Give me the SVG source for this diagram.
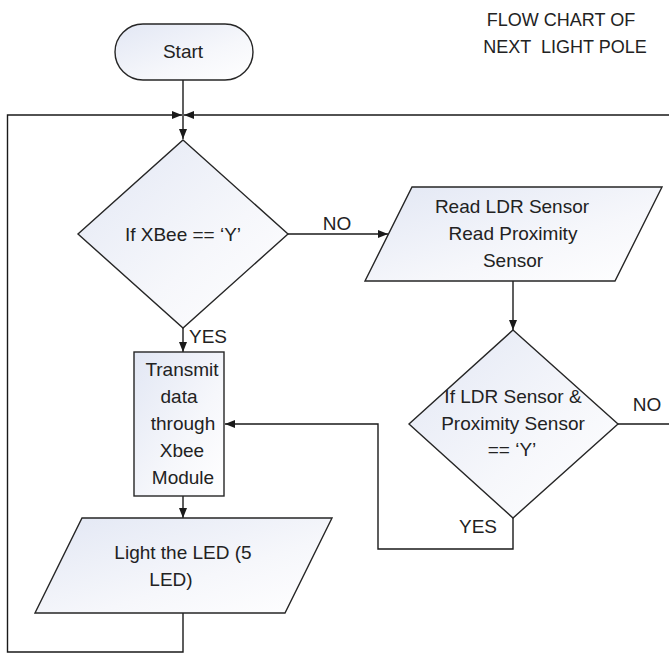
<svg xmlns="http://www.w3.org/2000/svg" width="669" height="654" viewBox="0 0 669 654">
<style>
.shape{stroke:#262626;stroke-width:1.4;fill:url(#fillg)}
.conn{stroke:#1a1a1a;stroke-width:1.4;fill:none}
.t{font-family:"Liberation Sans",Arial,sans-serif;font-size:19px;fill:#222;text-anchor:middle}
.title{font-family:"Liberation Sans",Arial,sans-serif;font-size:18px;fill:#222;text-anchor:middle}
</style>
<defs>
<linearGradient id="fillg" x1="0" y1="0" x2="1" y2="1">
<stop offset="0" stop-color="#e2e7f4"/>
<stop offset="0.6" stop-color="#f6f7fb"/>
<stop offset="1" stop-color="#ffffff"/>
</linearGradient>
<marker id="arr" markerUnits="userSpaceOnUse" markerWidth="10" markerHeight="10" viewBox="0 0 10 10" refX="10" refY="5" orient="auto">
<path d="M0,1 L10,5 L0,9 Z" fill="#1a1a1a"/>
</marker>
</defs>
<rect width="669" height="654" fill="#ffffff"/>
<g id="title">
<text class="title" x="561" y="26">FLOW CHART OF</text>
<text class="title" x="565" y="53" xml:space="preserve">NEXT  LIGHT POLE</text>
</g>
<g id="connectors">
<path class="conn" d="M183,80 V139" marker-end="url(#arr)"/>
<path class="conn" d="M183,613 V652 H7.5 V115 H182" marker-end="url(#arr)"/>
<path class="conn" d="M618,424 H675 V115 H184" marker-end="url(#arr)"/>
<path class="conn" d="M288,234 H388" marker-end="url(#arr)"/>
<path class="conn" d="M183,328 V352" marker-end="url(#arr)"/>
<path class="conn" d="M183,496 V518" marker-end="url(#arr)"/>
<path class="conn" d="M513,281 V330" marker-end="url(#arr)"/>
<path class="conn" d="M513,518 V549 H378 V424 H225" marker-end="url(#arr)"/>
<text class="t" x="337" y="230">NO</text>
<text class="t" x="208" y="343">YES</text>
<text class="t" x="647" y="411">NO</text>
<text class="t" x="478" y="533">YES</text>
</g>
<g id="start">
<rect class="shape" x="115" y="24" width="138" height="56" rx="28" ry="28"/>
<text class="t" x="183" y="58">Start</text>
</g>
<g id="decision1">
<polygon class="shape" points="183,140 288,234 183,328 78,234"/>
<text class="t" x="183" y="241">If XBee == ‘Y’</text>
</g>
<g id="read-sensors">
<polygon class="shape" points="412,187 662,187 615,281 365,281"/>
<text class="t" x="512" y="213">Read LDR Sensor</text>
<text class="t" x="513" y="240">Read Proximity</text>
<text class="t" x="513" y="267">Sensor</text>
</g>
<g id="decision2">
<polygon class="shape" points="513,330 618,424 513,518 409,424"/>
<text class="t" x="513" y="403">If LDR Sensor &amp;</text>
<text class="t" x="513" y="430">Proximity Sensor</text>
<text class="t" x="512" y="456">== ‘Y’</text>
</g>
<g id="transmit">
<rect class="shape" x="134" y="352" width="90" height="144"/>
<text class="t" x="182" y="376">Transmit</text>
<text class="t" x="179" y="403">data</text>
<text class="t" x="183" y="430">through</text>
<text class="t" x="182" y="457">Xbee</text>
<text class="t" x="183" y="484">Module</text>
</g>
<g id="light-led">
<polygon class="shape" points="82,518 332,518 285,613 35,613"/>
<text class="t" x="183" y="559">Light the LED (5</text>
<text class="t" x="171" y="586">LED)</text>
</g>
</svg>
